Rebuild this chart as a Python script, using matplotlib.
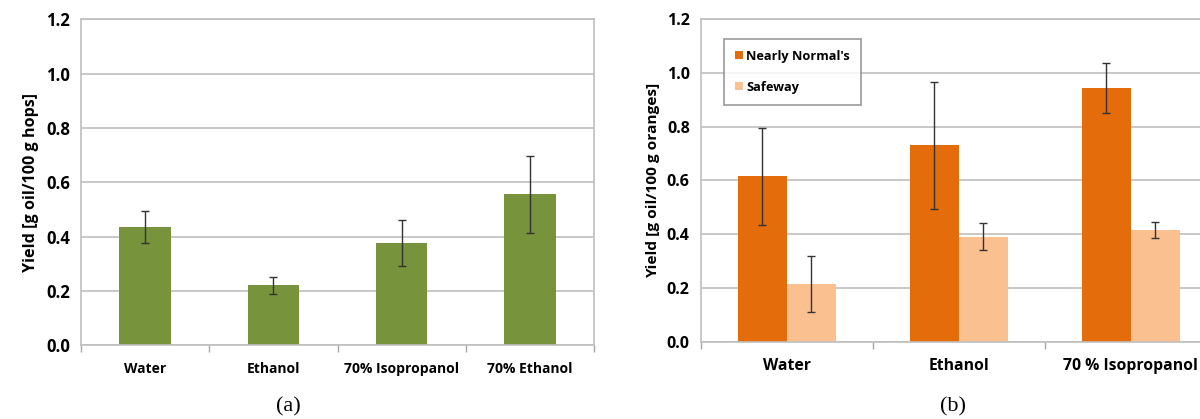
import matplotlib.pyplot as plt
import numpy as np

# (a) hops
hops_labels = ["Water", "Ethanol", "70% Isopropanol", "70% Ethanol"]
hops_yield = [0.435, 0.22, 0.375, 0.555]
hops_err = [0.058, 0.032, 0.085, 0.142]

# (b) oranges
orange_labels = ["Water", "Ethanol", "70 % Isopropanol"]
nearly_normals = [0.615, 0.73, 0.945]
nearly_err = [0.18, 0.235, 0.093]
safeway = [0.215, 0.39, 0.415]
safeway_err = [0.105, 0.05, 0.03]

green = "#77933C"
dark_orange = "#E46C0A"
light_orange = "#FAC090"
grid_col = "#BFBFBF"
font = "Open Sans"

fig = plt.figure(figsize=(12, 4.19), dpi=100)


def style_axes(ax, n, labels, tick_fs, cat_fs):
    ax.set_ylim(0, 1.2)
    ax.set_xlim(-0.5, n - 0.5)
    ax.set_yticks(np.arange(0, 1.21, 0.2))
    ax.set_yticklabels(["%.1f" % v for v in np.arange(0, 1.21, 0.2)],
                       fontsize=tick_fs, fontweight="bold", family=font)
    ax.yaxis.grid(True, color=grid_col, lw=1.2)
    ax.set_axisbelow(True)
    for s in ax.spines.values():
        s.set_color(grid_col)
        s.set_linewidth(1.2)
    ax.tick_params(axis="y", length=0, pad=8)
    ax.set_xticks(range(n))
    ax.set_xticklabels(labels, fontsize=cat_fs, fontweight="bold", family=font)
    ax.tick_params(axis="x", which="major", length=0, pad=12)
    ax.set_xticks(np.arange(-0.5, n, 1.0), minor=True)
    ax.tick_params(axis="x", which="minor", length=5, color="#A6A6A6", width=1)


# panel (a)
ax1 = fig.add_axes([0.0675, 0.176, 0.4275, 0.778])
x1 = np.arange(len(hops_labels))
ax1.bar(x1, hops_yield, width=0.4, color=green, zorder=2)
ax1.errorbar(x1, hops_yield, yerr=hops_err, fmt="none", ecolor="#333333",
             elinewidth=1, capsize=3, capthick=1, zorder=3)
style_axes(ax1, len(hops_labels), hops_labels, 12, 10)
ax1.set_ylabel("Yield [g oil/100 g hops]", fontsize=11.6, fontweight="bold",
               family=font, labelpad=5)

# panel (b)
ax2 = fig.add_axes([0.584, 0.1845, 0.43, 0.770])
x2 = np.arange(len(orange_labels))
w = 0.285
ax2.bar(x2 - w / 2, nearly_normals, width=w, color=dark_orange, zorder=2,
        label="Nearly Normal's")
ax2.bar(x2 + w / 2, safeway, width=w, color=light_orange, zorder=2,
        label="Safeway")
ax2.errorbar(x2 - w / 2, nearly_normals, yerr=nearly_err, fmt="none",
             ecolor="#333333", elinewidth=1, capsize=3, capthick=1, zorder=3)
ax2.errorbar(x2 + w / 2, safeway, yerr=safeway_err, fmt="none",
             ecolor="#333333", elinewidth=1, capsize=3, capthick=1, zorder=3)
style_axes(ax2, len(orange_labels), orange_labels, 11.5, 11.3)
ax2.set_ylabel("Yield [g oil/100 g oranges]", fontsize=11.1, fontweight="bold",
               family=font, labelpad=5)
leg = ax2.legend(loc="upper left", bbox_to_anchor=(0.045, 0.938), fancybox=False,
                 edgecolor="#808080", handlelength=0.6, handleheight=0.6,
                 labelspacing=1.4, borderpad=0.85, handletextpad=0.3,
                 borderaxespad=0,
                 prop={"family": font, "weight": "bold", "size": 9.2})
leg.get_frame().set_linewidth(1.2)

fig.text(288 / 1200, 1 - 407 / 419, "(a)", ha="center", va="center",
         fontsize=16, family="Liberation Serif")
fig.text(953 / 1200, 1 - 407 / 419, "(b)", ha="center", va="center",
         fontsize=16, family="Liberation Serif")

plt.savefig("out.png", dpi=100)
